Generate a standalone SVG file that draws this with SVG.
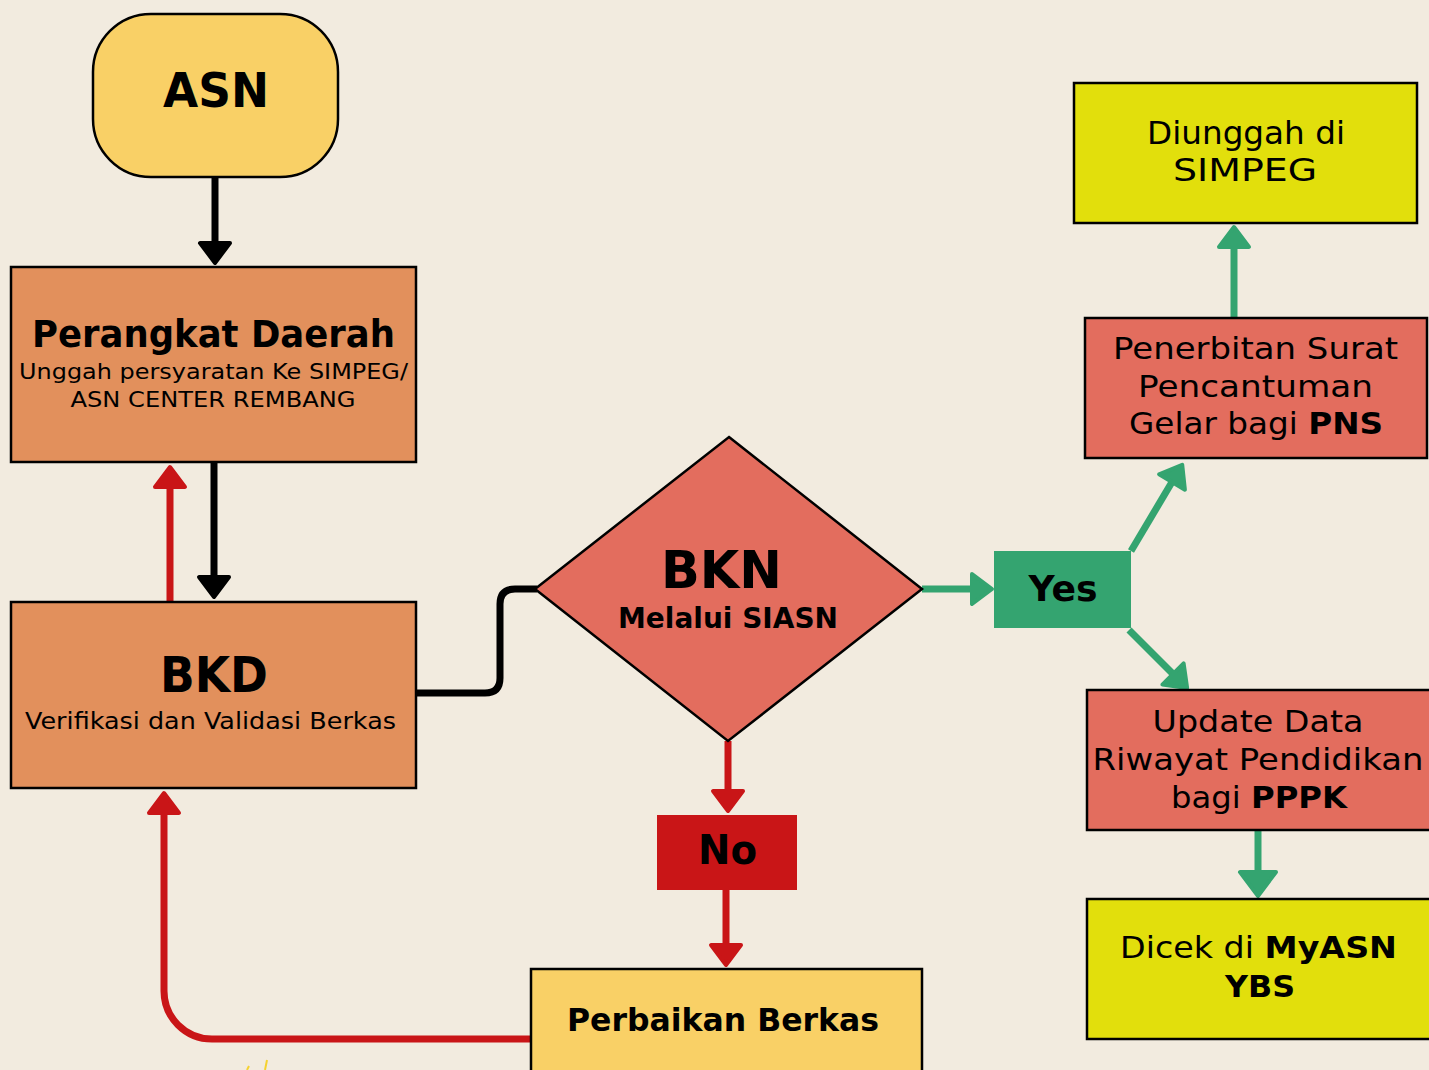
<svg xmlns="http://www.w3.org/2000/svg" width="1429" height="1070" viewBox="0 0 1429 1070">
<style>
text{font-family:"DejaVu Sans",Inter,sans-serif;fill:#000;text-anchor:middle}
.b{font-weight:700}
.node{stroke:#000;stroke-width:2.5}
.pd{fill:#E2905C}
.ylw{fill:#F9D066}
.red{fill:#E36D5E}
.lime{fill:#E2DF0C}
.c{fill:none;stroke-linejoin:round}
.k{stroke:#000;stroke-width:7}
.r{stroke:#C91517;stroke-width:7}
.g{stroke:#34A470;stroke-width:7}
</style>
<defs>
<marker id="mk" markerUnits="userSpaceOnUse" markerWidth="30" markerHeight="40" refX="2" refY="17" orient="auto" overflow="visible">
<path d="M2,2 L22,17 L2,32 Z" fill="#000" stroke="#000" stroke-width="4" stroke-linejoin="round"/>
</marker>
<marker id="mr" markerUnits="userSpaceOnUse" markerWidth="30" markerHeight="40" refX="2" refY="17" orient="auto" overflow="visible">
<path d="M2,2 L22,17 L2,32 Z" fill="#C91517" stroke="#C91517" stroke-width="4" stroke-linejoin="round"/>
</marker>
<marker id="mg" markerUnits="userSpaceOnUse" markerWidth="30" markerHeight="40" refX="2" refY="17" orient="auto" overflow="visible">
<path d="M2,2 L22,17 L2,32 Z" fill="#34A470" stroke="#34A470" stroke-width="4" stroke-linejoin="round"/>
</marker>
<marker id="mgl" markerUnits="userSpaceOnUse" markerWidth="40" markerHeight="50" refX="2" refY="20" orient="auto" overflow="visible">
<path d="M2,2 L26,20 L2,38 Z" fill="#34A470" stroke="#34A470" stroke-width="4" stroke-linejoin="round"/>
</marker>
</defs>
<rect width="1429" height="1070" fill="#F2EBDF"/>

<g id="connectors">
<path class="c k" d="M215,177 V243" marker-end="url(#mk)"/>
<path class="c k" d="M214,460 V577" marker-end="url(#mk)"/>
<path class="c r" d="M170,602 V487" marker-end="url(#mr)"/>
<path class="c k" d="M416,693 H485 Q500,693 500,678 V604 Q500,589 515,589 H537"/>
<path class="c g" d="M922,589 H972" marker-end="url(#mg)"/>
<path class="c g" d="M1131,551 L1172,482" marker-end="url(#mg)"/>
<path class="c g" d="M1129,630 L1173,674" marker-end="url(#mg)"/>
<path class="c g" d="M1234,318 V247" marker-end="url(#mg)"/>
<path class="c g" d="M1258,830 V872" stroke-width="9" marker-end="url(#mgl)"/>
<path class="c r" d="M728,741 V791" marker-end="url(#mr)"/>
<path class="c r" d="M726,890 V945" marker-end="url(#mr)"/>
<path class="c r" d="M531,1039 H212 A48,48 0 0 1 164,991 V813" marker-end="url(#mr)"/>
</g>

<g id="asn">
<rect class="node ylw" x="93" y="14" width="245" height="163" rx="58" ry="58" stroke-width="2"/>
<text class="b" x="216" y="107" font-size="48" textLength="106" lengthAdjust="spacingAndGlyphs">ASN</text>
</g>

<g id="perangkat-daerah">
<rect class="node pd" x="11" y="267" width="405" height="195"/>
<text class="b" x="213.5" y="347" font-size="37" textLength="363" lengthAdjust="spacingAndGlyphs">Perangkat Daerah</text>
<text x="213.5" y="379" font-size="21.5" textLength="389" lengthAdjust="spacingAndGlyphs">Unggah persyaratan Ke SIMPEG/</text>
<text x="213" y="407" font-size="21.5" textLength="285" lengthAdjust="spacingAndGlyphs">ASN CENTER REMBANG</text>
</g>

<g id="bkd">
<rect class="node pd" x="11" y="602" width="405" height="186"/>
<text class="b" x="214" y="692" font-size="49" textLength="108" lengthAdjust="spacingAndGlyphs">BKD</text>
<text x="210.5" y="729" font-size="23.5" textLength="371" lengthAdjust="spacingAndGlyphs">Verifikasi dan Validasi Berkas</text>
</g>

<g id="bkn">
<polygon class="node red" points="729,437 922,589 728,741 535,589" stroke-width="2"/>
<text class="b" x="721.5" y="588" font-size="51" textLength="121" lengthAdjust="spacingAndGlyphs">BKN</text>
<text class="b" x="728" y="628" font-size="27.5" textLength="220" lengthAdjust="spacingAndGlyphs">Melalui SIASN</text>
</g>

<g id="yes">
<rect x="994" y="551" width="137" height="77" fill="#34A470"/>
<text class="b" x="1063" y="601" font-size="35" textLength="69" lengthAdjust="spacingAndGlyphs">Yes</text>
</g>

<g id="no">
<rect x="657" y="815" width="140" height="75" fill="#C91517"/>
<text class="b" x="727.5" y="864" font-size="40" textLength="59" lengthAdjust="spacingAndGlyphs">No</text>
</g>

<g id="perbaikan">
<rect class="node ylw" x="531" y="969" width="391" height="115"/>
<text class="b" x="723" y="1031" font-size="32" textLength="312" lengthAdjust="spacingAndGlyphs">Perbaikan Berkas</text>
</g>

<g id="penerbitan">
<rect class="node red" x="1085" y="318" width="342" height="140"/>
<text x="1255.5" y="359" font-size="30" textLength="285" lengthAdjust="spacingAndGlyphs">Penerbitan Surat</text>
<text x="1255.5" y="397" font-size="30" textLength="235" lengthAdjust="spacingAndGlyphs">Pencantuman</text>
<text x="1256" y="434" font-size="30" textLength="254" lengthAdjust="spacingAndGlyphs">Gelar bagi <tspan class="b">PNS</tspan></text>
</g>

<g id="diunggah">
<rect class="node lime" x="1074" y="83" width="343" height="140"/>
<text x="1246" y="144" font-size="32" textLength="198" lengthAdjust="spacingAndGlyphs">Diunggah di</text>
<text x="1245" y="181" font-size="32" textLength="144" lengthAdjust="spacingAndGlyphs">SIMPEG</text>
</g>

<g id="update-data">
<rect class="node red" x="1087" y="690" width="344" height="140"/>
<text x="1258" y="732" font-size="31" textLength="211" lengthAdjust="spacingAndGlyphs">Update Data</text>
<text x="1258" y="770" font-size="31" textLength="331" lengthAdjust="spacingAndGlyphs">Riwayat Pendidikan</text>
<text x="1259" y="808" font-size="31" textLength="176" lengthAdjust="spacingAndGlyphs">bagi <tspan class="b">PPPK</tspan></text>
</g>

<g id="dicek">
<rect class="node lime" x="1087" y="899" width="344" height="140"/>
<text x="1258.5" y="958" font-size="31" textLength="277" lengthAdjust="spacingAndGlyphs">Dicek di <tspan class="b">MyASN</tspan></text>
<text class="b" x="1260" y="997" font-size="31" textLength="70" lengthAdjust="spacingAndGlyphs">YBS</text>
</g>

<path d="M247,1070 L249,1066 M265,1070 L267,1060" stroke="#F5D230" stroke-width="2" fill="none"/>
</svg>
